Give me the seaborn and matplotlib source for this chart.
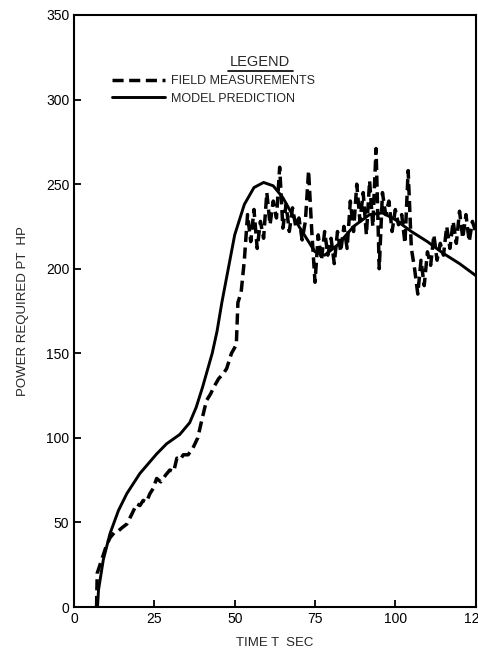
import numpy as np
import matplotlib
matplotlib.use("Agg")
import matplotlib.pyplot as plt
import seaborn as sns

# model prediction (solid)
model_t = [7.3, 7.6, 9.1, 11.2, 13.8, 16.4, 20.5, 25.7, 28.8, 32.9, 36, 38, 40, 43,
           44.5, 46, 47, 50, 53, 56, 59, 62, 65, 70, 75, 78, 82, 87, 92, 96, 100,
           105, 110, 115, 120, 125]
model_hp = [0, 10, 28, 43.5, 57, 67, 79, 90.5, 96.5, 102, 109, 118, 130, 150,
            163, 180, 190, 220, 238, 248, 251, 249, 242, 225, 210, 208, 214, 225,
            232, 233, 229, 222, 216, 209, 203, 196]

# field measurements (dashed)
field_t = [7.0, 7.2, 8.6, 10, 11.2, 12.5, 13.8, 15, 16.4, 18, 19.5, 20.5, 21.5,
           22.5, 23.6, 24.6, 25.7, 27, 28.5, 29.8, 31, 32, 33, 34, 35.5, 37, 38.5,
           39.7, 41.2, 42.5, 43.5, 45, 46.5, 47.5, 49, 50.5, 51, 52,
           53, 54, 55, 56, 57, 58, 59, 60, 61, 62, 63, 64, 65, 66, 67, 68, 69, 70,
           71, 72, 73, 74, 75, 76, 77, 78, 79, 80, 81, 82, 83, 84, 85, 86, 87, 88,
           89, 90, 91, 92, 93, 94, 95, 96, 97, 98, 99, 100, 101, 102, 103, 104,
           105, 106, 107, 108, 109, 110, 111, 112, 113, 114, 115, 116, 117, 118,
           119, 120, 121, 122, 123, 124, 125]
field_hp = [0, 20, 28, 36, 41, 44, 45, 47, 49, 55, 61, 60, 63,
            62, 67, 70, 76, 74, 78, 81, 80, 88, 87, 90, 90, 94, 100,
            110, 122, 126, 130, 135, 138, 141, 150, 155, 180, 186,
            205, 232, 216, 235, 212, 228, 218, 245, 226, 240, 230, 260, 224, 238,
            222, 236, 225, 230, 217, 228, 258, 222, 192, 220, 205, 222, 208, 218,
            203, 222, 210, 225, 212, 240, 222, 250, 228, 245, 220, 252, 225, 271,
            200, 245, 232, 240, 222, 235, 226, 232, 215, 258, 212, 200, 185, 205,
            190, 210, 202, 220, 205, 215, 208, 225, 212, 228, 215, 234, 218, 232,
            216, 228, 222]

x_ticks = [0, 25, 50, 75, 100, 125]
y_ticks = [0, 50, 100, 150, 200, 250, 300, 350]

sns.set_style("ticks")
plt.rcParams["font.family"] = ["Liberation Sans", "DejaVu Sans"]

fig = plt.figure(figsize=(4.78, 6.52), dpi=100)
ax = fig.add_axes([0.155, 0.069, 0.84, 0.908])

sns.lineplot(x=field_t, y=field_hp, ax=ax, color="black", lw=2.5,
             linestyle=(0, (3.2, 1.6)), label="FIELD MEASUREMENTS", sort=False)
sns.lineplot(x=model_t, y=model_hp, ax=ax, color="black", lw=2.1,
             label="MODEL PREDICTION", sort=False)

ax.set_xlim(0, 125)
ax.set_ylim(0, 350)
ax.set_xticks(x_ticks)
ax.set_yticks(y_ticks)
ax.tick_params(direction="in", length=5, width=1.3, labelsize=10, colors="black")
for s in ax.spines.values():
    s.set_linewidth(1.5)
    s.set_color("black")

ax.set_xlabel("TIME T  SEC", fontsize=9.5, labelpad=8)
ax.set_ylabel("POWER REQUIRED PT  HP", fontsize=9.5, labelpad=12)

leg = ax.legend(loc="upper left", bbox_to_anchor=(0.082, 0.907), frameon=False,
                fontsize=9, handlelength=4.2, handletextpad=0.55,
                labelspacing=0.45, borderaxespad=0)
ax.text(0.463, 0.92, "LEGEND", transform=ax.transAxes, ha="center",
        va="center", fontsize=10.5)
ax.plot([0.383, 0.546], [0.906, 0.906], transform=ax.transAxes, color="black",
        lw=1.2)

fig.savefig("out.png", dpi=100)
